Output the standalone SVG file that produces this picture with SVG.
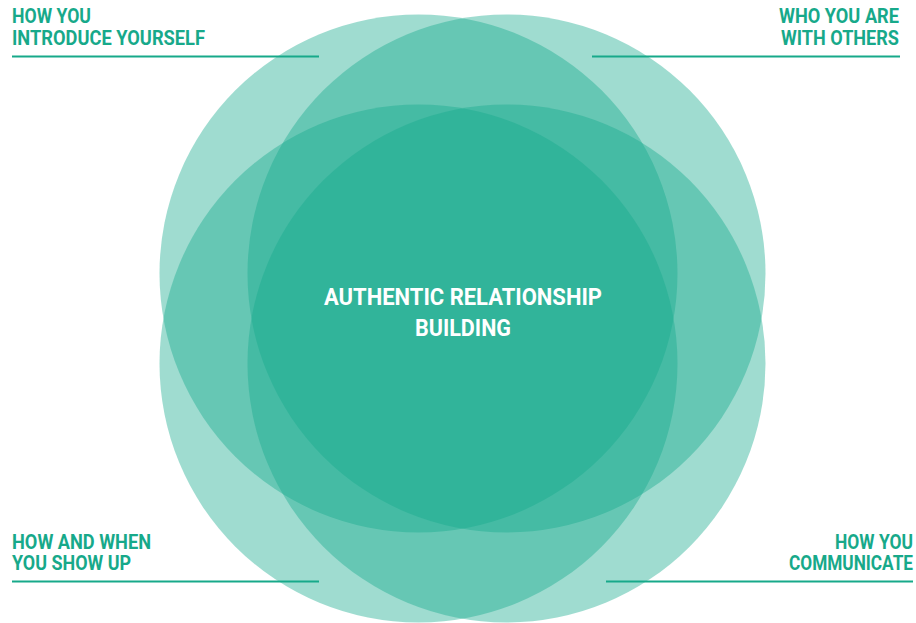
<svg xmlns="http://www.w3.org/2000/svg" width="916" height="623" viewBox="0 0 916 623">
  <style>
    .petal { fill: #17a98c; fill-opacity: 0.41; }
    .label { font-family: Roboto, "Liberation Sans", sans-serif; font-weight: 700; font-size: 21px; fill: #17a98a; }
    .center { font-family: Roboto, "Liberation Sans", sans-serif; font-weight: 700; font-size: 24px; fill: #ffffff; }
    .rule { stroke: #17a98a; stroke-width: 2; fill: none; }
  </style>
  <rect width="916" height="623" fill="#ffffff"/>

  <!-- four overlapping circles -->
  <g id="circles">
    <circle id="circle-top-left" class="petal" cx="418.5" cy="273.5" r="259"/>
    <circle id="circle-top-right" class="petal" cx="506.5" cy="273.5" r="259"/>
    <circle id="circle-bottom-left" class="petal" cx="418.5" cy="363.5" r="259"/>
    <circle id="circle-bottom-right" class="petal" cx="506.5" cy="363.5" r="259"/>
  </g>

  <!-- underline rules beneath each corner label -->
  <g id="connectors">
    <line class="rule" x1="12" y1="56.5" x2="319" y2="56.5"/>
    <line class="rule" x1="592" y1="56.5" x2="900" y2="56.5"/>
    <line class="rule" x1="12" y1="581.5" x2="319" y2="581.5"/>
    <line class="rule" x1="606" y1="581.5" x2="913" y2="581.5"/>
  </g>

  <g id="label-introduce">
    <text class="label" x="12" y="23" textLength="79" lengthAdjust="spacingAndGlyphs">HOW YOU</text>
    <text class="label" x="12" y="45" textLength="193" lengthAdjust="spacingAndGlyphs">INTRODUCE YOURSELF</text>
  </g>

  <g id="label-others">
    <text class="label" x="779" y="23" textLength="120" lengthAdjust="spacingAndGlyphs">WHO YOU ARE</text>
    <text class="label" x="781" y="45" textLength="118" lengthAdjust="spacingAndGlyphs">WITH OTHERS</text>
  </g>

  <g id="label-show-up">
    <text class="label" x="12" y="549" textLength="139" lengthAdjust="spacingAndGlyphs">HOW AND WHEN</text>
    <text class="label" x="12" y="570" textLength="119" lengthAdjust="spacingAndGlyphs">YOU SHOW UP</text>
  </g>

  <g id="label-communicate">
    <text class="label" x="835" y="549" textLength="78" lengthAdjust="spacingAndGlyphs">HOW YOU</text>
    <text class="label" x="789" y="570" textLength="124" lengthAdjust="spacingAndGlyphs">COMMUNICATE</text>
  </g>

  <g id="label-center">
    <text class="center" x="324" y="305" textLength="278" lengthAdjust="spacingAndGlyphs">AUTHENTIC RELATIONSHIP</text>
    <text class="center" x="415" y="336" textLength="96" lengthAdjust="spacingAndGlyphs">BUILDING</text>
  </g>
</svg>
